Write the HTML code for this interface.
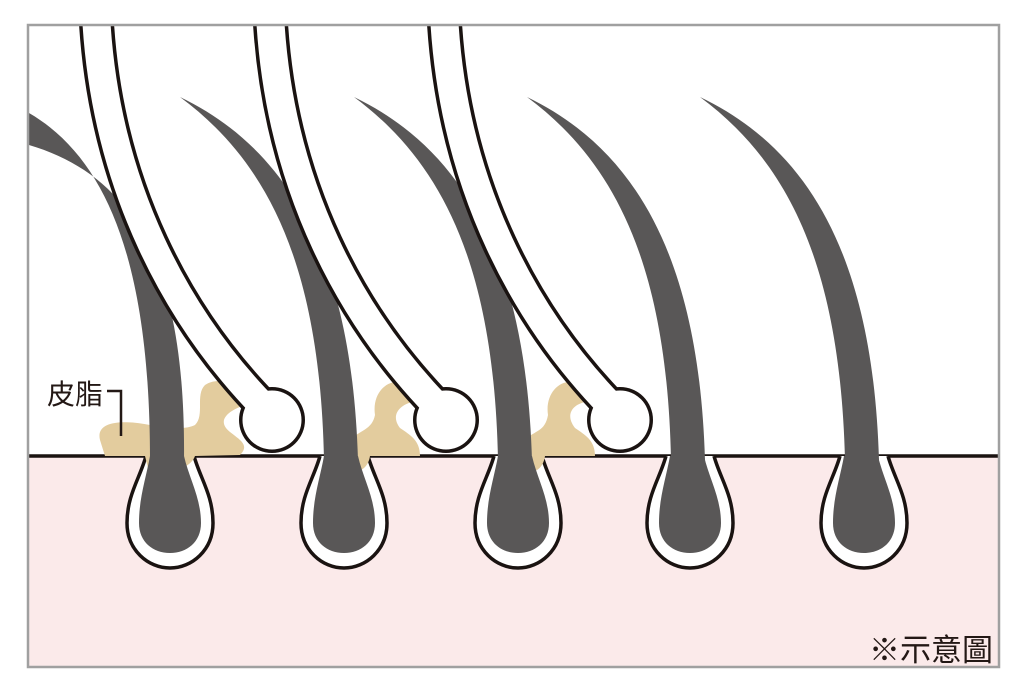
<!DOCTYPE html>
<html><head><meta charset="utf-8"><style>
html,body{margin:0;padding:0;background:#fff;width:1026px;height:699px;overflow:hidden}
svg{display:block}
text{font-family:"Liberation Sans","Noto Sans CJK TC",sans-serif}
</style></head><body>
<svg width="1026" height="699" viewBox="0 0 1026 699" xmlns="http://www.w3.org/2000/svg">
<defs>
<clipPath id="fr"><rect x="29" y="26" width="969" height="640"/></clipPath>
<g id="fol">
 <path d="M-24,456 C-30,478 -43,495 -43,523 C-43,550 -22,568 0,568 C22,568 43,550 43,523 C43,495 30,478 24,456" fill="#fff" stroke="#1a1311" stroke-width="3.5"/>
</g>
<g id="bulb">
 <path d="M-20,456 C-24,478 -31,498 -31,523 C-31,542 -17,553 0,553 C17,553 31,542 31,523 C31,498 19,478 14,456 Z" fill="#595757"/>
</g>
</defs>
<rect x="29" y="26" width="969" height="640" fill="#fff"/>
<rect x="29" y="456" width="969" height="210" fill="#fbeaea"/>
<g clip-path="url(#fr)">
<line x1="29" y1="456" x2="998" y2="456" stroke="#1a1311" stroke-width="3.5"/>
<use href="#fol" x="170"/><use href="#fol" x="344"/><use href="#fol" x="518"/><use href="#fol" x="690"/><use href="#fol" x="864"/>
<g fill="#e3cc9e">
 <path d="M100,440 C95,420 125,420 150,425 C170,428 185,430 195,425 C205,415 195,395 205,385 C220,375 240,385 245,405 C230,410 215,420 230,432 C240,440 250,445 240,455 L195,456 C190,470 165,475 148,468 L145,456 L105,456 Z"/>
 <path d="M350,440 C360,430 372,430 375,415 C372,395 385,380 400,382 C412,385 418,395 412,402 C400,405 390,415 400,428 C410,435 420,440 420,456 L370,456 C368,470 355,475 352,468 Z"/>
 <path d="M525,440 C535,430 545,432 548,415 C545,395 558,380 573,382 C585,385 590,395 585,402 C572,405 565,415 575,428 C585,435 595,440 595,456 L545,456 C543,470 532,475 528,468 Z"/>
</g>
<use href="#bulb" x="170"/><use href="#bulb" x="344"/><use href="#bulb" x="518"/><use href="#bulb" x="690"/><use href="#bulb" x="864"/>
<g fill="#595757">
 <path d="M29,113 C110,160 150,270 150,460 L184,460 C186,260 130,175 29,145 Z"/>
 <path d="M180,97 C265,160 320,260 324,460 L358,460 C352,260 290,150 180,97 Z"/>
 <path d="M354,97 C439,160 494,260 498,460 L532,460 C526,260 464,150 354,97 Z"/>
 <path d="M527,97 C612,160 667,260 671,460 L705,460 C699,260 637,150 527,97 Z"/>
 <path d="M700,97 C785,160 840,260 845,460 L879,460 C873,260 811,150 700,97 Z"/>
</g>
<g>
 <g id="wh">
  <path d="M96,15 C105,190 180,320 262,405" fill="none" stroke="#1a1311" stroke-width="35"/>
  <circle cx="272" cy="420" r="33" fill="#1a1311"/>
  <path d="M96,15 C105,190 180,320 262,405" fill="none" stroke="#fff" stroke-width="28"/>
  <circle cx="272" cy="420" r="29.5" fill="#fff"/>
 </g>
 <use href="#wh" x="174"/>
 <use href="#wh" x="348"/>
</g>
</g>
<rect x="28" y="25" width="971" height="642" fill="none" stroke="#a0a0a0" stroke-width="2.5"/>
<text x="47" y="404" font-size="28" fill="#231815">皮脂</text>
<path d="M107,391 L121,391 L121,436" fill="none" stroke="#231815" stroke-width="2.5"/>
<text x="869" y="661" font-size="31" fill="#231815">※示意圖</text>
</svg>
</body></html>
